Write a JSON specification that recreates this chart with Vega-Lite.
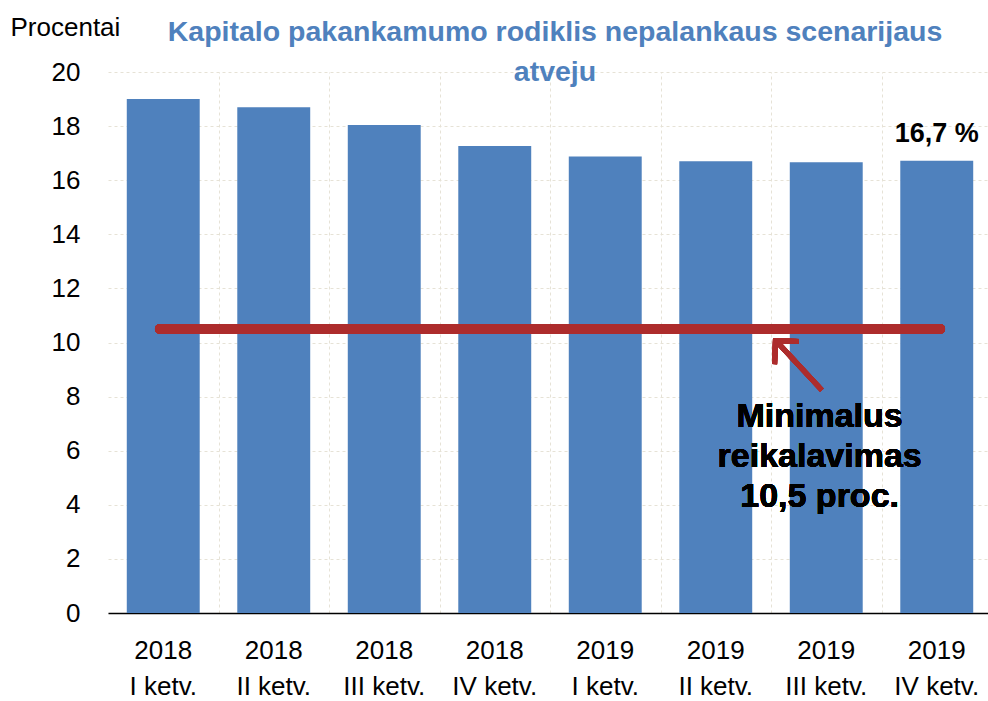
{
  "$schema": "https://vega.github.io/schema/vega-lite/v6.json",
  "width": 884,
  "height": 541,
  "autosize": "none",
  "padding": {"left": 108, "top": 72, "right": -4, "bottom": 88},
  "background": "white",
  "config": {"font": "Liberation Sans", "view": {"stroke": null}},
  "title": {
    "text": ["Kapitalo pakankamumo rodiklis nepalankaus scenarijaus", "atveju"],
    "font": "Liberation Sans",
    "fontSize": 28.5,
    "fontWeight": "bold",
    "color": "#4f81bd",
    "anchor": "middle",
    "frame": "group",
    "lineHeight": 40,
    "baseline": "bottom",
    "offset": 0,
    "dy": 101,
    "dx": 5
  },
  "data": {
    "values": [
      {"ketvirtis": "2018|I ketv.", "reiksme": 19.0},
      {"ketvirtis": "2018|II ketv.", "reiksme": 18.7},
      {"ketvirtis": "2018|III ketv.", "reiksme": 18.04},
      {"ketvirtis": "2018|IV ketv.", "reiksme": 17.26},
      {"ketvirtis": "2019|I ketv.", "reiksme": 16.88},
      {"ketvirtis": "2019|II ketv.", "reiksme": 16.7},
      {"ketvirtis": "2019|III ketv.", "reiksme": 16.66},
      {"ketvirtis": "2019|IV ketv.", "reiksme": 16.72}
    ]
  },
  "layer": [
    {
      "encoding": {
        "x": {
          "field": "ketvirtis",
          "type": "nominal",
          "sort": null,
          "scale": {"paddingInner": 0.34, "paddingOuter": 0.17},
          "axis": {
            "title": null,
            "labelExpr": "split(datum.label, '|')",
            "labelAngle": 0,
            "labelFont": "Liberation Sans",
            "labelFontSize": 26,
            "labelLineHeight": 36,
            "labelPadding": 24,
            "labelBaseline": "top",
            "labelColor": "black",
            "ticks": false,
            "domain": true,
            "domainColor": "black",
            "domainWidth": 1.5,
            "grid": false
          }
        },
        "y": {
          "field": "reiksme",
          "type": "quantitative",
          "scale": {"domain": [0, 20], "nice": false},
          "axis": {
            "title": "Procentai",
            "titleAngle": 0,
            "titleAlign": "left",
            "titleBaseline": "alphabetic",
            "titleX": -98,
            "titleY": -37,
            "titleFont": "Liberation Sans",
            "titleFontSize": 26,
            "titleFontWeight": "normal",
            "titleColor": "black",
            "values": [0, 2, 4, 6, 8, 10, 12, 14, 16, 18, 20],
            "labelFont": "Liberation Sans",
            "labelFontSize": 26,
            "labelColor": "black",
            "labelPadding": 28,
            "ticks": false,
            "domain": false,
            "grid": true,
            "gridDash": [3, 3],
            "gridColor": "#e6e2d6"
          }
        }
      },
      "layer": [
        {"mark": {"type": "bar", "color": "#4f81bd"}},
        {
          "transform": [{"filter": "datum.ketvirtis === '2019|IV ketv.'"}],
          "mark": {"type": "text", "font": "Liberation Sans", "fontWeight": "bold", "fontSize": 27, "baseline": "alphabetic", "dy": -19, "color": "black"},
          "encoding": {"text": {"value": "16,7 %"}}
        }
      ]
    },
    {
      "layer": [
        {
          "mark": {"type": "rule", "color": "#ad2c2c", "strokeWidth": 10, "strokeCap": "round"},
          "encoding": {
            "x": {
              "datum": 0.47,
              "type": "quantitative",
              "scale": {"domain": [0, 8], "nice": false, "zero": false},
              "axis": {
                "values": [1, 2, 3, 4, 5, 6, 7],
                "grid": true,
                "gridDash": [3, 3],
                "gridColor": "#e6e2d6",
                "labels": false,
                "ticks": false,
                "domain": false,
                "title": null
              }
            },
            "x2": {"datum": 7.53},
            "y": {"datum": 10.5, "type": "quantitative"}
          }
        },
        {
          "mark": {"type": "rule", "color": "#ad2c2c", "strokeWidth": 5},
          "encoding": {
            "x": {"datum": 6.46, "type": "quantitative"},
            "x2": {"datum": 6.06},
            "y": {"datum": 8.24, "type": "quantitative"},
            "y2": {"datum": 10.0}
          }
        },
        {
          "mark": {"type": "point", "shape": "M -1 1 L 0 0 L 1 1", "filled": false, "stroke": "#ad2c2c", "strokeWidth": 5, "size": 1100, "angle": 317, "opacity": 1},
          "encoding": {
            "x": {"datum": 6.04, "type": "quantitative"},
            "y": {"datum": 10.07, "type": "quantitative"}
          }
        },
        {
          "mark": {"type": "text", "font": "Liberation Sans", "fontWeight": "bold", "fontSize": 34, "lineHeight": 40, "align": "center", "baseline": "alphabetic", "color": "black"},
          "encoding": {
            "x": {"datum": 6.44, "type": "quantitative"},
            "y": {"datum": 6.88, "type": "quantitative"},
            "text": {"value": ["Minimalus", "reikalavimas", "10,5 proc."]}
          }
        }
      ]
    }
  ],
  "resolve": {"scale": {"x": "independent"}, "axis": {"x": "independent"}}
}
